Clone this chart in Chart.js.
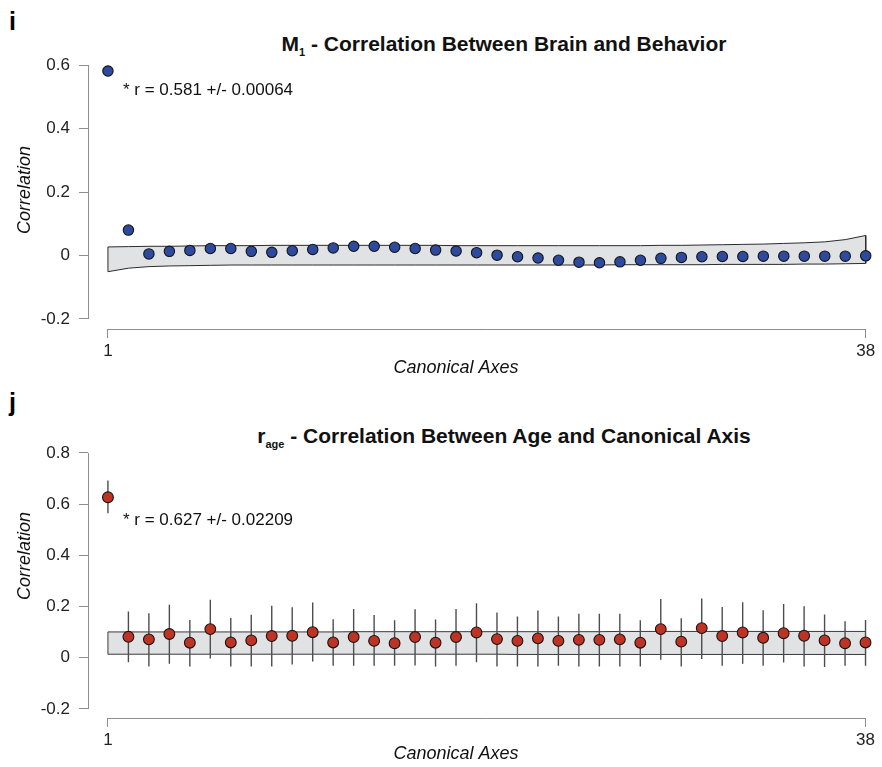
<!DOCTYPE html>
<html>
<head>
<meta charset="utf-8">
<script src="https://cdn.jsdelivr.net/npm/chart.js@4.4.0/dist/chart.umd.min.js"></script>
<style>
  html, body { margin: 0; padding: 0; background: #fff; }
  body { width: 882px; height: 767px; position: relative; overflow: hidden;
         font-family: "Liberation Sans", Arial, Helvetica, sans-serif; }
  .panel { position: absolute; left: 0; width: 882px; }
  .letter { position: absolute; left: 9px; font-weight: bold; font-size: 25px; line-height: 1; color: #000; }
  .title { position: absolute; left: 504px; transform: translateX(-50%); white-space: nowrap;
           font-weight: bold; font-size: 21px; line-height: 1; color: #111; }
  .title sub { font-size: 11px; vertical-align: -5px; line-height: 0; }
</style>
</head>
<body>
<div class="letter" style="top:9px">i</div>
<div class="title" style="top:33px">M<sub>1</sub> - Correlation Between Brain and Behavior</div>
<div class="panel" style="top:0;height:383px"><canvas id="brain" width="882" height="383"></canvas></div>

<div class="letter" style="top:390px">j</div>
<div class="title" style="top:425px">r<sub>age</sub> - Correlation Between Age and Canonical Axis</div>
<div class="panel" style="top:383px;height:384px"><canvas id="age" width="882" height="384"></canvas></div>

<script>
// Canonical axis numbers
const canonicalAxes = [1, 2, 3, 4, 5, 6, 7, 8, 9, 10, 11, 12, 13, 14, 15, 16, 17, 18, 19,
  20, 21, 22, 23, 24, 25, 26, 27, 28, 29, 30, 31, 32, 33, 34, 35, 36, 37, 38];

// Panel i: brain-behavior correlation per canonical axis
const brainBehaviorR = [0.581, 0.080, 0.005, 0.013, 0.016, 0.022, 0.022, 0.013, 0.010, 0.015,
  0.019, 0.024, 0.029, 0.029, 0.026, 0.022, 0.017, 0.014, 0.009, 0.001,
  -0.004, -0.008, -0.015, -0.021, -0.023, -0.020, -0.015, -0.009, -0.006, -0.004,
  -0.003, -0.003, -0.002, -0.002, -0.002, -0.002, -0.002, -0.001];
// Null (permutation) band for panel i
const brainNullUpper = [0.027, 0.028, 0.029, 0.029, 0.030, 0.031, 0.031, 0.031, 0.032, 0.032,
  0.032, 0.032, 0.032, 0.032, 0.032, 0.032, 0.032, 0.031, 0.031, 0.031,
  0.031, 0.031, 0.031, 0.031, 0.031, 0.031, 0.031, 0.032, 0.032, 0.033,
  0.034, 0.035, 0.036, 0.038, 0.040, 0.043, 0.050, 0.063];
const brainNullLower = [-0.051, -0.040, -0.035, -0.033, -0.032, -0.031, -0.030, -0.030, -0.030, -0.030,
  -0.030, -0.030, -0.030, -0.030, -0.030, -0.030, -0.030, -0.030, -0.030, -0.030,
  -0.030, -0.030, -0.030, -0.030, -0.030, -0.029, -0.029, -0.029, -0.029, -0.029,
  -0.028, -0.028, -0.028, -0.028, -0.027, -0.027, -0.026, -0.025];

// Panel j: age correlation per canonical axis, with interval ends
const ageR = [0.627, 0.082, 0.072, 0.093, 0.059, 0.112, 0.060, 0.068, 0.085, 0.086,
  0.100, 0.060, 0.081, 0.066, 0.057, 0.081, 0.059, 0.081, 0.099, 0.073,
  0.066, 0.076, 0.066, 0.070, 0.070, 0.072, 0.059, 0.112, 0.063, 0.116,
  0.085, 0.099, 0.078, 0.096, 0.086, 0.068, 0.057, 0.060];
const ageHigh = [0.693, 0.181, 0.174, 0.207, 0.148, 0.227, 0.155, 0.168, 0.203, 0.197,
  0.216, 0.151, 0.191, 0.167, 0.147, 0.190, 0.150, 0.191, 0.213, 0.177,
  0.161, 0.185, 0.161, 0.172, 0.172, 0.172, 0.147, 0.230, 0.154, 0.232,
  0.198, 0.217, 0.186, 0.210, 0.201, 0.169, 0.143, 0.148];
const ageLow = [0.565, -0.017, -0.034, -0.023, -0.034, -0.003, -0.034, -0.034, -0.034, -0.026,
  -0.014, -0.031, -0.031, -0.031, -0.031, -0.030, -0.034, -0.031, -0.017, -0.034,
  -0.034, -0.034, -0.031, -0.034, -0.034, -0.034, -0.034, -0.008, -0.034, -0.005,
  -0.031, -0.023, -0.031, -0.018, -0.034, -0.036, -0.031, -0.031];
// Null band for panel j
const ageNullUpper = [0.101, 0.101, 0.101, 0.101, 0.101, 0.101, 0.101, 0.101, 0.101, 0.101,
  0.101, 0.101, 0.102, 0.102, 0.102, 0.102, 0.102, 0.102, 0.102, 0.102,
  0.102, 0.102, 0.102, 0.102, 0.102, 0.103, 0.103, 0.103, 0.103, 0.103,
  0.103, 0.103, 0.103, 0.103, 0.103, 0.103, 0.103, 0.103];
const ageNullLower = [0.014, 0.014, 0.014, 0.014, 0.014, 0.014, 0.014, 0.014, 0.014, 0.014,
  0.014, 0.014, 0.014, 0.014, 0.014, 0.014, 0.014, 0.014, 0.014, 0.014,
  0.013, 0.013, 0.013, 0.013, 0.013, 0.013, 0.013, 0.013, 0.013, 0.013,
  0.013, 0.013, 0.013, 0.013, 0.013, 0.013, 0.013, 0.013];

// Tick labels
const xTickValues = [1, 38];
const brainYTicks = [-0.2, 0, 0.2, 0.4, 0.6];
const ageYTicks = [-0.2, 0, 0.2, 0.4, 0.6, 0.8];

const brainNote = '* r = 0.581 +/- 0.00064';
const ageNote = '* r = 0.627 +/- 0.02209';
const xTitle = 'Canonical Axes';
const yTitle = 'Correlation';

const FONT = '"Liberation Sans", Arial, Helvetica, sans-serif';
const AXIS_GREY = '#8e8e8e';

function bandPolygon(upper, lower) {
  const pts = canonicalAxes.map((x, i) => ({ x, y: upper[i] }));
  for (let i = canonicalAxes.length - 1; i >= 0; i--) pts.push({ x: canonicalAxes[i], y: lower[i] });
  pts.push({ x: canonicalAxes[0], y: upper[0] });
  return pts;
}

function intervalSegments(low, high) {
  const pts = [];
  canonicalAxes.forEach((x, i) => {
    pts.push({ x, y: low[i] }, { x, y: high[i] }, { x, y: null });
  });
  return pts;
}

// R-style detached axes, axis titles and the leading-axis annotation
const rStyle = {
  id: 'rStyle',
  afterDraw(chart, args, opts) {
    const { ctx } = chart;
    const xs = chart.scales.x, ys = chart.scales.y;
    const area = chart.chartArea;
    ctx.save();
    ctx.strokeStyle = AXIS_GREY;
    ctx.lineWidth = 1;
    // y axis line across the tick range
    const yt = opts.yTicks;
    const ax = Math.round(area.left) + 0.5;
    ctx.beginPath();
    ctx.moveTo(ax, ys.getPixelForValue(yt[0]));
    ctx.lineTo(ax, ys.getPixelForValue(yt[yt.length - 1]));
    ctx.stroke();
    // x axis line across the tick range
    const ay = Math.round(area.bottom) + 0.5;
    ctx.beginPath();
    ctx.moveTo(xs.getPixelForValue(xTickValues[0]), ay);
    ctx.lineTo(xs.getPixelForValue(xTickValues[xTickValues.length - 1]), ay);
    ctx.stroke();

    ctx.fillStyle = '#111';
    ctx.font = 'italic 18px ' + FONT;
    ctx.textAlign = 'center';
    ctx.textBaseline = 'middle';
    ctx.fillText(xTitle, opts.xTitleX, opts.xTitleY);
    ctx.save();
    ctx.translate(opts.yTitleX, opts.yTitleY);
    ctx.rotate(-Math.PI / 2);
    ctx.fillText(yTitle, 0, 0);
    ctx.restore();

    // annotation next to the first axis
    ctx.font = '17px ' + FONT;
    ctx.textAlign = 'left';
    ctx.textBaseline = 'alphabetic';
    const px = xs.getPixelForValue(canonicalAxes[0]);
    const py = ys.getPixelForValue(opts.noteValue);
    ctx.fillText(opts.note, px + 15, py + opts.noteDy);
    ctx.restore();
  }
};

function makeChart(id, cfg) {
  const tickFont = { family: FONT, size: 17 };
  return new Chart(document.getElementById(id), {
    type: 'scatter',
    data: { datasets: cfg.datasets },
    options: {
      responsive: false,
      animation: false,
      events: [],
      layout: { padding: { top: cfg.padTop, right: 4, left: 0, bottom: 0 } },
      plugins: {
        legend: { display: false },
        tooltip: { enabled: false },
        rStyle: cfg.rStyle
      },
      scales: {
        x: {
          type: 'linear',
          min: 0.0263, max: 38.487,
          afterBuildTicks: s => { s.ticks = xTickValues.map(v => ({ value: v })); },
          afterFit: s => { s.height = cfg.xHeight; },
          ticks: { font: tickFont, color: '#222', padding: 3, maxRotation: 0, autoSkip: false,
                   callback: v => String(v) },
          grid: { display: true, drawOnChartArea: false, drawTicks: true, tickLength: 9,
                  color: AXIS_GREY, lineWidth: 1 },
          border: { display: false }
        },
        y: {
          type: 'linear',
          min: cfg.yMin, max: cfg.yMax,
          afterBuildTicks: s => { s.ticks = cfg.yTicks.map(v => ({ value: v })); },
          afterFit: s => { s.width = 88; },
          ticks: { font: tickFont, color: '#222', padding: 9, autoSkip: false,
                   callback: v => (Math.abs(v) < 1e-9 ? '0' : String(v)) },
          grid: { display: true, drawOnChartArea: false, drawTicks: true, tickLength: 9,
                  color: AXIS_GREY, lineWidth: 1 },
          border: { display: false }
        }
      }
    },
    plugins: [rStyle]
  });
}

// Panel i
makeChart('brain', {
  padTop: 55,
  xHeight: 54,
  yMin: -0.2315, yMax: 0.6315,
  yTicks: brainYTicks,
  rStyle: { yTicks: brainYTicks, xTitleX: 456, xTitleY: 368, yTitleX: 25, yTitleY: 190,
            note: brainNote, noteValue: brainBehaviorR[0], noteDy: 24 },
  datasets: [
    {
      data: canonicalAxes.map((x, i) => ({ x, y: brainBehaviorR[i] })),
      pointRadius: 5.2, pointBorderWidth: 1.1,
      pointBackgroundColor: '#2d4a9e', pointBorderColor: '#141414',
      order: 1
    },
    {
      data: bandPolygon(brainNullUpper, brainNullLower),
      showLine: true, fill: 'shape', tension: 0,
      backgroundColor: '#e1e2e4', borderColor: '#2b2b2b', borderWidth: 1,
      pointRadius: 0,
      order: 3
    }
  ]
});

// Panel j
makeChart('age', {
  padTop: 62,
  xHeight: 49,
  yMin: -0.2352, yMax: 0.83125,
  yTicks: ageYTicks,
  rStyle: { yTicks: ageYTicks, xTitleX: 456, xTitleY: 371, yTitleX: 25, yTitleY: 173,
            note: ageNote, noteValue: ageR[0], noteDy: 28 },
  datasets: [
    {
      data: canonicalAxes.map((x, i) => ({ x, y: ageR[i] })),
      pointRadius: 5.4, pointBorderWidth: 1.1,
      pointBackgroundColor: '#bf3324', pointBorderColor: '#141414',
      order: 1
    },
    {
      data: intervalSegments(ageLow, ageHigh),
      showLine: true, spanGaps: false, fill: false,
      borderColor: '#4d4d4d', borderWidth: 1.4,
      pointRadius: 0,
      order: 2
    },
    {
      data: bandPolygon(ageNullUpper, ageNullLower),
      showLine: true, fill: 'shape', tension: 0,
      backgroundColor: '#e1e2e4', borderColor: '#3a3a3a', borderWidth: 1,
      pointRadius: 0,
      order: 3
    }
  ]
});
</script>
</body>
</html>
